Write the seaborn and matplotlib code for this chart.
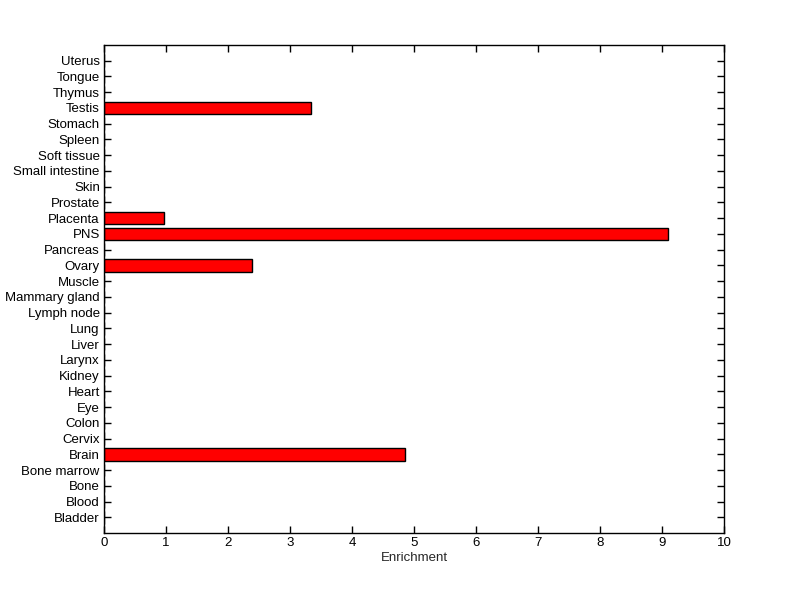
import pandas as pd
import seaborn as sns
import matplotlib
matplotlib.use("Agg")
import matplotlib.pyplot as plt

# tissues from bottom to top, as in the figure
tissues = ["Bladder", "Blood", "Bone", "Bone marrow", "Brain", "Cervix", "Colon",
           "Eye", "Heart", "Kidney", "Larynx", "Liver", "Lung", "Lymph node",
           "Mammary gland", "Muscle", "Ovary", "Pancreas", "PNS", "Placenta",
           "Prostate", "Skin", "Small intestine", "Soft tissue", "Spleen",
           "Stomach", "Testis", "Thymus", "Tongue", "Uterus"]
enrichment = [0, 0, 0, 0, 4.85, 0, 0,
              0, 0, 0, 0, 0, 0, 0,
              0, 0, 2.38, 0, 9.09, 0.97,
              0, 0, 0, 0, 0,
              0, 3.34, 0, 0, 0]

df = pd.DataFrame({"tissue": tissues, "enrichment": enrichment})

sns.set_style("white")
plt.rcParams['font.family'] = ['Liberation Sans', 'DejaVu Sans']

fig = plt.figure(figsize=(8, 5.99), dpi=100)
ax = fig.add_axes([0.13, 0.11, 0.775, 0.815])

# top category first, seaborn puts it at the top
order = tissues[::-1]
sns.barplot(data=df, x="enrichment", y="tissue", order=order, orient="h",
            color="#ff0000", saturation=1, width=0.8, edgecolor="black",
            linewidth=1, ax=ax)

n = len(tissues)
ax.set_ylim(n, -1)
ax.set_xlim(0, 10)
ax.set_xticks(range(0, 11))
ax.set_xlabel("Enrichment", fontsize=9.5, labelpad=2)
ax.set_ylabel("")
ax.tick_params(axis="both", direction="in", top=True, right=True,
               bottom=True, left=True,
               length=5, width=1, labelsize=9.5, colors="black", pad=3)
for s in ax.spines.values():
    s.set_visible(True)
    s.set_color("black")
    s.set_linewidth(1)

fig.savefig("out.png", dpi=100, facecolor="white")
